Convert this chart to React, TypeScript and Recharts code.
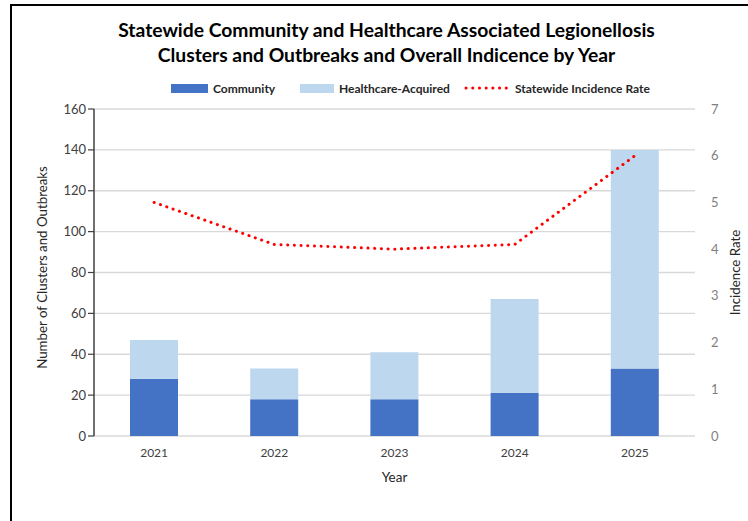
import React from "react";
import {
  ComposedChart,
  Bar,
  Line,
  XAxis,
  YAxis,
  CartesianGrid,
} from "recharts";

const years = ["2021", "2022", "2023", "2024", "2025"];
const community = [28, 18, 18, 21, 33];
const healthcare = [19, 15, 23, 46, 107];
const incidence = [5.0, 4.1, 4.0, 4.1, 6.0];
const leftTicks = [0, 20, 40, 60, 80, 100, 120, 140, 160];
const rightTicks = [0, 1, 2, 3, 4, 5, 6, 7];
const edgeTicks = [0, 1, 2, 3, 4, 5];

const data = years.map((year, i) => ({
  year,
  community: community[i],
  healthcare: healthcare[i],
  incidence: incidence[i],
}));

const FONT = "Lato, 'Open Sans', sans-serif";
const DARK_BLUE = "#4472C4";
const LIGHT_BLUE = "#BDD7EE";

function LegendRow() {
  const item = (swatch: React.ReactNode, text: string, left: number) => (
    <div
      style={{
        position: "absolute",
        left,
        top: 0,
        display: "flex",
        alignItems: "center",
        height: 16,
      }}
    >
      {swatch}
      <span style={{ marginLeft: 5, fontSize: 12, fontWeight: 700, color: "#262626" }}>
        {text}
      </span>
    </div>
  );
  return (
    <div style={{ position: "absolute", top: 80, left: 0, width: 748, height: 16, fontFamily: FONT }}>
      {item(<div style={{ width: 37, height: 9, background: DARK_BLUE }} />, "Community", 171)}
      {item(<div style={{ width: 34, height: 9, background: LIGHT_BLUE }} />, "Healthcare-Acquired", 300)}
      {item(
        <svg width={46} height={6}>
          <line x1={2} y1={3} x2={44} y2={3} stroke="#FF0000" strokeWidth={3} strokeDasharray="0.1 6.6" strokeLinecap="round" />
        </svg>,
        "Statewide Incidence Rate",
        464
      )}
    </div>
  );
}

export default function App() {
  return (
    <div style={{ position: "absolute", left: 0, top: 0, width: 748, height: 521, background: "#fff", overflow: "hidden", fontFamily: FONT }}>
      <div style={{ position: "absolute", left: 10, top: 4, width: 800, height: 600, borderTop: "2px solid #000", borderLeft: "2px solid #000" }} />
      <div
        style={{
          position: "absolute",
          left: 0,
          top: 17,
          width: 773,
          textAlign: "center",
          fontSize: 19.3,
          fontWeight: 700,
          lineHeight: "25px",
          color: "#000",
        }}
      >
        Statewide Community and Healthcare Associated Legionellosis
        <br />
        Clusters and Outbreaks and Overall Indicence by Year
      </div>
      <LegendRow />
      <div style={{ position: "absolute", left: 0, top: 0 }}>
        <ComposedChart
          width={748}
          height={521}
          data={data}
          margin={{ top: 109, right: 8, bottom: 35, left: 20 }}
        >
          <CartesianGrid yAxisId="left" vertical={false} stroke="#D9D9D9" strokeWidth={1.3} />
          <XAxis
            xAxisId="edge"
            type="number"
            domain={[0, 5]}
            ticks={edgeTicks}
            tick={false}
            height={0}
            axisLine={{ stroke: "#404040", strokeWidth: 1.5 }}
            tickLine={{ stroke: "#404040", strokeWidth: 1.2 }}
            tickSize={5}
          />
          <XAxis
            xAxisId="cat"
            dataKey="year"
            height={50}
            axisLine={false}
            tickLine={false}
            tick={{ fill: "#404040", fontSize: 12, fontFamily: FONT }}
            tickMargin={6}
            label={{ value: "Year", position: "insideBottom", offset: 4, fill: "#262626", fontSize: 13.5, fontFamily: FONT }}
          />
          <YAxis
            yAxisId="left"
            domain={[0, 160]}
            ticks={leftTicks}
            width={74}
            interval={0}
            axisLine={{ stroke: "#404040", strokeWidth: 1.5 }}
            tickLine={{ stroke: "#404040", strokeWidth: 1.2 }}
            tickSize={6}
            tick={{ fill: "#404040", fontSize: 13, fontFamily: FONT }}
            label={{
              value: "Number of Clusters and Outbreaks",
              angle: -90,
              position: "insideLeft",
              offset: 22,
              dy: -5,
              style: { textAnchor: "middle" },
              fill: "#262626",
              fontSize: 13.3,
              fontFamily: FONT,
            }}
          />
          <YAxis
            yAxisId="right"
            orientation="right"
            domain={[0, 7]}
            ticks={rightTicks}
            width={45}
            interval={0}
            axisLine={false}
            tickLine={false}
            tickMargin={10}
            tick={{ fill: "#7F7F7F", fontSize: 13, fontFamily: FONT }}
            label={{
              value: "Incidence Rate",
              angle: -90,
              position: "insideRight",
              offset: 5,
              style: { textAnchor: "middle" },
              fill: "#262626",
              fontSize: 13.3,
              fontFamily: FONT,
            }}
          />
          <Bar xAxisId="cat" yAxisId="left" dataKey="community" stackId="a" fill={DARK_BLUE} barSize={48} isAnimationActive={false} />
          <Bar xAxisId="cat" yAxisId="left" dataKey="healthcare" stackId="a" fill={LIGHT_BLUE} barSize={48} isAnimationActive={false} />
          <Line
            xAxisId="cat"
            yAxisId="right"
            dataKey="incidence"
            type="linear"
            stroke="#FF0000"
            strokeWidth={3}
            strokeDasharray="0.1 6.6"
            strokeLinecap="round"
            dot={false}
            activeDot={false}
            isAnimationActive={false}
          />
        </ComposedChart>
      </div>
    </div>
  );
}
